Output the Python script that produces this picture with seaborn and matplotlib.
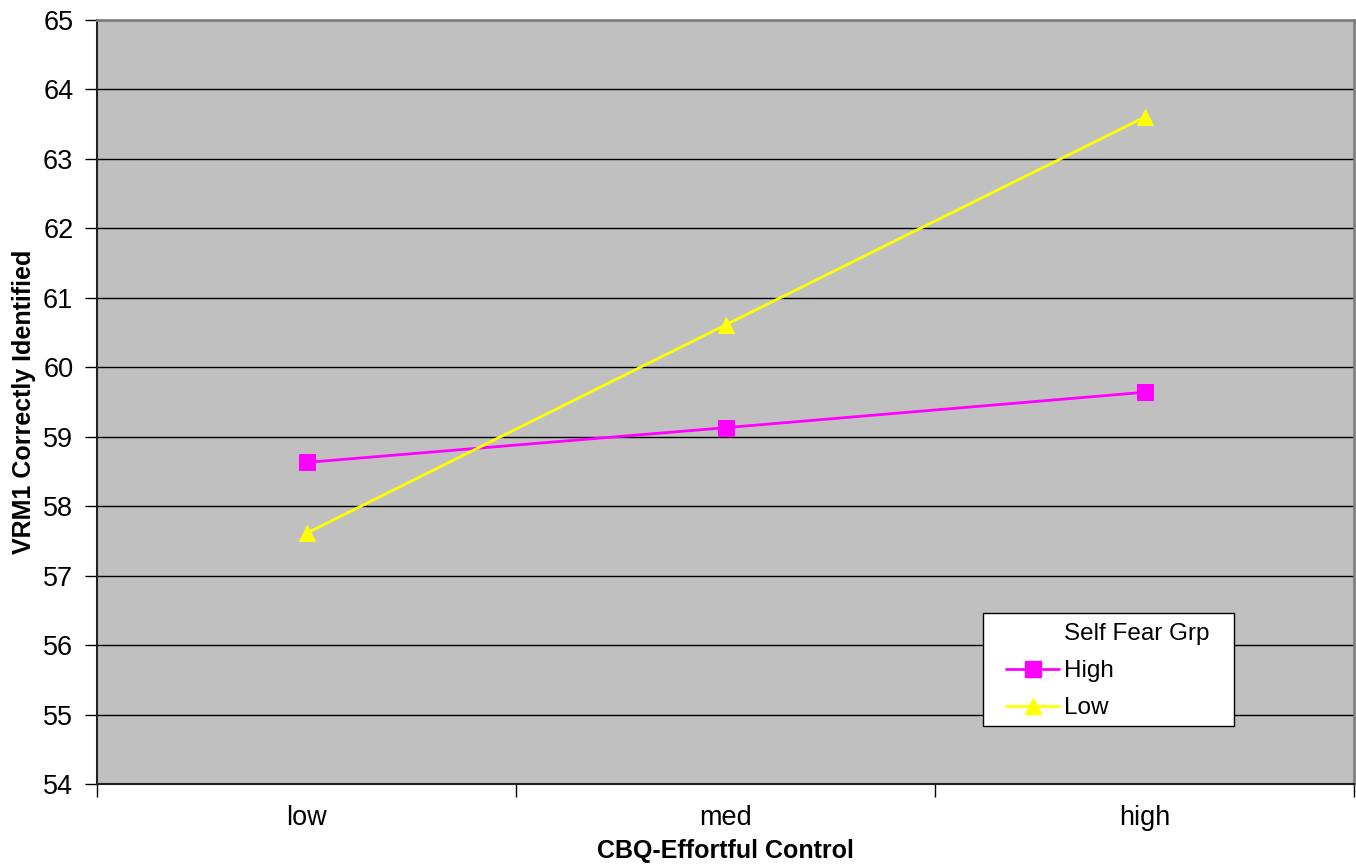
import matplotlib
matplotlib.use("Agg")
import matplotlib.pyplot as plt
import seaborn as sns
import pandas as pd
from matplotlib.ticker import FixedLocator
from matplotlib.patches import Rectangle
from matplotlib.lines import Line2D

categories = ["low", "med", "high"]
groups = ["High", "Low"]
high_vals = [58.63, 59.13, 59.64]
low_vals = [57.61, 60.61, 63.60]
colors = {"High": "#FF00FF", "Low": "#FFFF00"}
markers = {"High": "s", "Low": "^"}

df = pd.DataFrame({
    "CBQ": categories * 2,
    "VRM1": high_vals + low_vals,
    "grp": ["High"] * 3 + ["Low"] * 3,
})

sns.set_style("white")
plt.rcParams["font.family"] = ["Liberation Sans", "DejaVu Sans"]
plt.rcParams["text.color"] = "black"
plt.rcParams["axes.labelcolor"] = "black"
plt.rcParams["xtick.color"] = "black"
plt.rcParams["ytick.color"] = "black"

W, H = 1356, 865
fig = plt.figure(figsize=(W / 100, H / 100), dpi=100)
ax = fig.add_axes([97 / W, (H - 784) / H, (1354 - 97) / W, (784 - 20) / H])
ax.set_facecolor("#C0C0C0")

for g in groups:
    sub = df[df["grp"] == g]
    sns.lineplot(data=sub, x="CBQ", y="VRM1", ax=ax, color=colors[g],
                 marker=markers[g], markersize=11 if g == "High" else 12,
                 markeredgecolor=colors[g], linewidth=2, legend=False, sort=False)

ax.set_xlim(-0.5, 2.5)
ax.set_ylim(54, 65)
ax.set_yticks(range(54, 66))
ax.yaxis.grid(True, color="black", linewidth=1)
ax.set_axisbelow(True)
ax.set_xticks([0, 1, 2])
ax.set_xticklabels(categories)
ax.xaxis.set_minor_locator(FixedLocator([-0.5, 0.5, 1.5, 2.5]))
ax.tick_params(axis="x", which="major", bottom=False, length=0, labelsize=19.5, pad=15)
ax.tick_params(axis="x", which="minor", bottom=True, length=9, width=1, color="black", direction="out")
ax.tick_params(axis="y", left=True, length=9, width=1, color="black", direction="out", labelsize=19.5, pad=8)
for s in ["left", "bottom"]:
    ax.spines[s].set_color("#202020")
    ax.spines[s].set_linewidth(1.5)
for s in ["top", "right"]:
    ax.spines[s].set_color("#808080")
    ax.spines[s].set_linewidth(2)

ax.set_xlabel("CBQ-Effortful Control", fontsize=18, fontweight="bold", labelpad=6)
ax.set_ylabel("VRM1 Correctly Identified", fontsize=18, fontweight="bold", labelpad=5)

# legend frame
fig.patches.append(Rectangle((983 / W, (H - 726) / H), (1234 - 983) / W, (726 - 613) / H,
                             transform=fig.transFigure, facecolor="white",
                             edgecolor="black", linewidth=1, zorder=5))
blank = Line2D([], [], linestyle="none", marker=None)
hh = Line2D([], [], color=colors["High"], marker="s", markersize=11, linewidth=2,
            markeredgecolor=colors["High"])
hl = Line2D([], [], color=colors["Low"], marker="^", markersize=12, linewidth=2,
            markeredgecolor=colors["Low"])
leg = fig.legend([blank, hh, hl], ["Self Fear Grp", "High", "Low"],
                 loc="upper left", bbox_to_anchor=(1006 / W, (H - 623) / H),
                 fontsize=17.5, frameon=False, borderpad=0, borderaxespad=0,
                 handlelength=2.2, handletextpad=0.2, labelspacing=0.62)
leg.set_zorder(6)

fig.savefig("out.png", dpi=100)
